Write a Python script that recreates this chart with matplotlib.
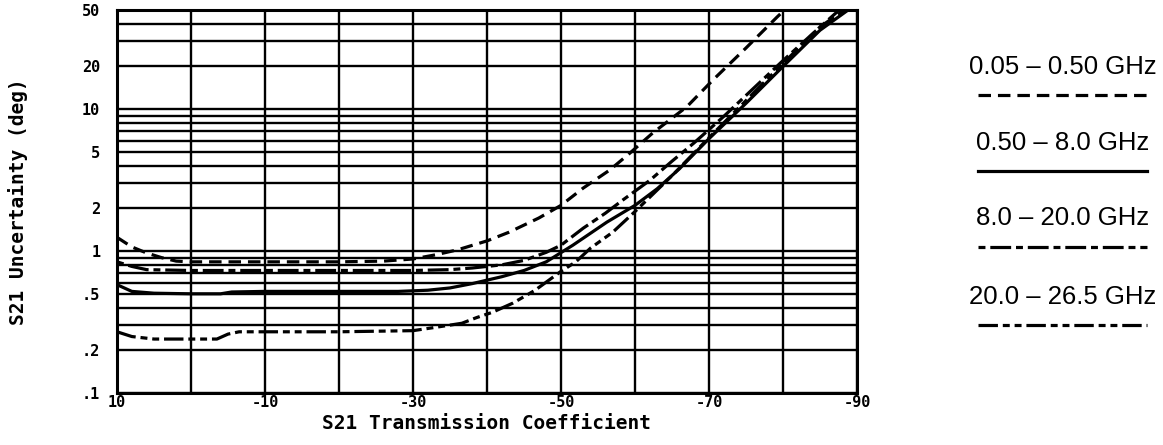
import matplotlib.pyplot as plt
import numpy as np
from matplotlib.lines import Line2D
from matplotlib.ticker import FixedLocator, LogLocator, NullFormatter

plt.rcParams['lines.scale_dashes'] = False

# S21 transmission coefficient (dB) vs. S21 phase uncertainty (deg), one pair per band
x_005_050 = [10, 8, 6, 4, 2, 0, -10, -20, -26, -30, -33, -36, -40, -43, -47, -50,
             -53, -56.6, -59.3, -62.4, -67, -70.5, -75, -79.2, -80.2]
y_005_050 = [1.25, 1.07, 0.97, 0.9, 0.85, 0.84, 0.84, 0.84, 0.85, 0.88, 0.94, 1.02, 1.18, 1.36, 1.71, 2.1,
             2.78, 3.73, 4.9, 6.8, 10.4, 16, 27, 44.6, 50]

x_050_80 = [10, 8, 5, 0, -4, -5.5, -10, -20, -28, -32, -35, -38, -42, -45, -48, -51.6,
            -56.2, -60, -63, -66, -70, -75, -80, -85, -88.8]
y_050_80 = [0.58, 0.52, 0.505, 0.50, 0.50, 0.515, 0.52, 0.52, 0.52, 0.53, 0.55, 0.59, 0.66, 0.73, 0.84, 1.1,
            1.6, 2.1, 2.75, 3.8, 6.2, 11, 20, 36, 50]

x_80_200 = [10, 8, 6, 0, -10, -20, -30, -35, -38, -42, -45, -48, -50, -53, -56, -58.4,
            -62, -65, -68, -72, -76, -80, -84, -87.6]
y_80_200 = [0.84, 0.78, 0.74, 0.73, 0.73, 0.73, 0.73, 0.74, 0.76, 0.8, 0.86, 0.98, 1.1, 1.45, 1.85, 2.3,
            3.15, 4.3, 5.8, 8.9, 14, 22, 34, 50]

x_200_265 = [10, 8, 5, 0, -3.5, -5, -6.5, -10, -20, -30, -33, -36.6, -38.6, -40.7, -43.5, -46.5,
             -50, -52, -54, -57, -60, -65, -70, -75, -80, -85, -88.3]
y_200_265 = [0.27, 0.25, 0.24, 0.24, 0.24, 0.26, 0.27, 0.27, 0.27, 0.275, 0.29, 0.31, 0.34, 0.37, 0.43, 0.53,
             0.72, 0.84, 1.05, 1.36, 1.9, 3.4, 6.3, 11.5, 21, 38, 50]

bands = ["0.05 \u2013 0.50 GHz", "0.50 \u2013 8.0 GHz", "8.0 \u2013 20.0 GHz", "20.0 \u2013 26.5 GHz"]

y_ticks = [0.1, 0.2, 0.5, 1, 2, 5, 10, 20, 50]
y_labels = [".1", ".2", ".5", "1", "2", "5", "10", "20", "50"]
x_ticks = [10, -10, -30, -50, -70, -90]
x_minor = [0, -20, -40, -60, -80]

styles = [(0, (9, 5)), "solid", (0, (5, 3.5, 15, 3.5)), (0, (14, 3.5, 5, 3.5, 5, 3.5))]

mono = {'family': 'DejaVu Sans Mono', 'weight': 'bold'}

fig = plt.figure(figsize=(11.63, 4.45), dpi=100)
ax = fig.add_axes([117 / 1163, 52 / 445, 740 / 1163, 383 / 445])

series = [(x_005_050, y_005_050), (x_050_80, y_050_80), (x_80_200, y_80_200), (x_200_265, y_200_265)]
for (xs, ys), ls in zip(series, styles):
    ax.plot(xs, ys, color='black', lw=2.3, linestyle=ls, solid_capstyle='butt',
            dash_capstyle='butt', zorder=3)

ax.set_yscale('log')
ax.set_ylim(0.1, 50)
ax.set_xlim(10, -90)

ax.yaxis.set_major_locator(FixedLocator(y_ticks))
ax.yaxis.set_minor_locator(LogLocator(base=10, subs=np.arange(1, 10)))
ax.yaxis.set_minor_formatter(NullFormatter())
ax.set_yticklabels(y_labels, fontdict=mono, fontsize=11)
ax.set_xticks(x_ticks)
ax.set_xticks(x_minor, minor=True)
ax.set_xticklabels(["%d" % v for v in x_ticks], fontdict=mono, fontsize=11)

ax.grid(which='both', color='black', lw=1.7)
ax.set_axisbelow(True)
ax.tick_params(which='both', length=0)
ax.tick_params(axis='y', pad=12)
ax.tick_params(axis='x', pad=1.5)
for sp in ax.spines.values():
    sp.set_linewidth(2.2)

ax.set_xlabel("S21 Transmission Coefficient", fontdict=mono, fontsize=14)
ax.xaxis.set_label_coords(0.5, -0.055)
ax.set_ylabel("S21 Uncertainty (deg)", fontdict=mono, fontsize=14)
ax.yaxis.set_label_coords(-0.12, 0.5)

# legend on the right: band name above a sample of its line style
text_y = [67, 143, 218, 297]
line_y = [95, 171, 247, 325]
for name, ls, ty, ly in zip(bands, styles, text_y, line_y):
    fig.text(1063 / 1163, 1 - ty / 445, name, ha='center', va='center',
             family='Liberation Sans', fontsize=18.5)
    fig.add_artist(Line2D([978 / 1163, 1147 / 1163], [1 - ly / 445, 1 - ly / 445],
                          transform=fig.transFigure, color='black', lw=2.3,
                          linestyle=ls, dash_capstyle='butt'))

fig.savefig('out.png', dpi=100, facecolor='white')
